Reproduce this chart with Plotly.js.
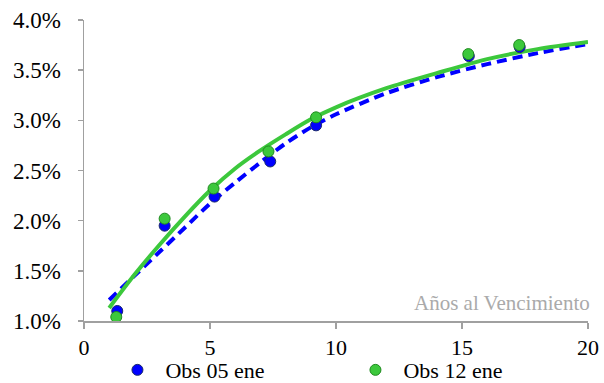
<!DOCTYPE html>
<html>
<head>
<meta charset="utf-8">
<script src="https://cdn.plot.ly/plotly-3.0.1.min.js"></script>
<style>html,body{margin:0;padding:0;background:#fff}#chart{width:604px;height:383px}</style>
</head>
<body>
<div id="chart"></div>
<script>
// Observations (years to maturity, yield %)
const obs05X = [1.32, 3.20, 5.18, 7.39, 9.21, 15.27, 17.29];
const obs05Y = [1.10, 1.95, 2.24, 2.59, 2.95, 3.64, 3.73];
const obs12X = [1.28, 3.20, 5.14, 7.32, 9.21, 15.25, 17.27];
const obs12Y = [1.04, 2.02, 2.32, 2.69, 3.03, 3.66, 3.75];
// Fitted curves
const curveX   = [1, 2, 3, 4, 5, 6, 7, 8, 9, 10, 12, 14, 16, 18, 20];
const curve05Y = [1.21, 1.45, 1.69, 1.93, 2.17, 2.38, 2.58, 2.77, 2.93, 3.06, 3.27, 3.43, 3.56, 3.67, 3.76];
const curve12Y = [1.13, 1.46, 1.76, 2.04, 2.30, 2.52, 2.70, 2.86, 3.01, 3.13, 3.32, 3.47, 3.61, 3.71, 3.78];
const xTicks = [0, 5, 10, 15, 20];
const yTicks = [1.0, 1.5, 2.0, 2.5, 3.0, 3.5, 4.0];
const names = ['Obs 05 ene', 'Obs 12 ene'];
const axisNote = 'Años al Vencimiento';

const blue = '#0000ff', green = '#3cc83c';
const traces = [
  {x: curveX, y: curve05Y, mode: 'lines', line: {color: blue, width: 4, dash: '10px,6px', shape: 'spline', smoothing: 0.8}, showlegend: false, hoverinfo: 'skip'},
  {x: curveX, y: curve12Y, mode: 'lines', line: {color: green, width: 4, shape: 'spline', smoothing: 0.8}, showlegend: false, hoverinfo: 'skip'},
  {x: obs05X, y: obs05Y, mode: 'markers', name: names[0], marker: {color: blue, size: 11, line: {color: '#1a2a6a', width: 1}}},
  {x: obs12X, y: obs12Y, mode: 'markers', name: names[1], marker: {color: green, size: 11, line: {color: '#1e8a1e', width: 1}}}
];
const fam = 'Liberation Serif';
const font = {family: fam, size: 23, color: '#000'};
const layout = {
  width: 604, height: 383,
  margin: {l: 83.5, r: 16, t: 20, b: 62, autoexpand: false},
  paper_bgcolor: '#fff', plot_bgcolor: '#fff',
  font: font,
  showlegend: true,
  legend: {orientation: 'h', x: 0.0505, xanchor: 'left', y: -0.163, yanchor: 'middle', font: {family: fam, size: 22, color: '#000'}, itemwidth: 46, entrywidth: 177, entrywidthmode: 'pixels', traceorder: 'normal', bgcolor: 'rgba(0,0,0,0)'},
  xaxis: {range: [0, 20], tickvals: xTicks, ticktext: xTicks.map(String), showgrid: false, zeroline: false, showline: true, linecolor: '#a0a0a0', linewidth: 1.5, ticks: 'outside', ticklen: 6, tickcolor: '#a0a0a0', tickwidth: 1.5, tickfont: {family: fam, size: 22, color: '#000'}, fixedrange: true},
  yaxis: {range: [1, 4], tickvals: yTicks, ticktext: yTicks.map(v => v.toFixed(1) + '%'), showgrid: false, zeroline: false, showline: true, linecolor: '#a0a0a0', linewidth: 1.5, ticks: 'outside', ticklen: 5, tickcolor: '#a0a0a0', tickwidth: 1.5, tickfont: font, ticklabelstandoff: 12, fixedrange: true},
  annotations: [{text: axisNote, xref: 'x', yref: 'y', x: 20, y: 1.18, xshift: 4, xanchor: 'right', yanchor: 'middle', showarrow: false, font: {family: fam, size: 21, color: '#aaaaaa'}}]
};
Plotly.newPlot('chart', traces, layout, {staticPlot: true, displayModeBar: false});
</script>
</body>
</html>
